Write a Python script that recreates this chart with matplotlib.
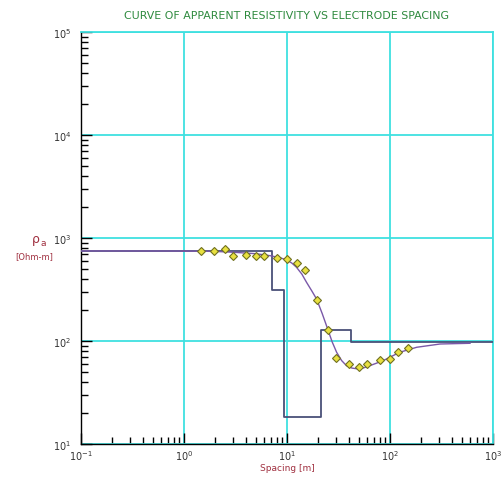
import matplotlib.pyplot as plt
from matplotlib.ticker import LogLocator, NullFormatter

# --- data ---
# field measurements (spacing [m], apparent resistivity [Ohm-m])
obs_spacing = [1.46, 1.97, 2.48, 3.01, 4.03, 5.0, 5.98, 8.0, 9.93, 12.4, 14.9,
               19.7, 25.0, 30.1, 40.0, 49.7, 59.8, 79.4, 99.3, 119, 149]
obs_rho = [743, 748, 781, 664, 684, 673, 664, 640, 625, 575, 489,
           250, 129, 68.9, 59.8, 56.2, 59.8, 65.8, 66.8, 77.6, 84.9]

# calculated (fitted) curve
calc_spacing = [0.1, 1.0, 2.0, 3.0, 5.0, 7.0, 8.5, 10.0, 11.2, 12.4, 14.0, 15.5,
                17.5, 19.4, 22.0, 25.0, 27.5, 30.4, 34.0, 37.9, 43.0, 49.3,
                56.0, 63.6, 86.0, 124, 182, 307, 599]
calc_rho = [750, 748, 742, 728, 705, 672, 645, 612, 570, 520, 445, 372,
            305, 256, 185, 129, 98, 77.6, 64.5, 57.5, 54.5, 53.5,
            55.0, 57.5, 64.4, 77.6, 86.9, 93.5, 95.0]

# layered model (depth boundaries, layer resistivities)
model_depth = [0.1, 7.15, 9.42, 21.2, 41.8, 1000]
model_rho = [750, 315, 18.4, 129, 98]

cyan = '#3fe0e0'
dark_red = '#a03040'

fig = plt.figure(figsize=(5.02, 4.81), dpi=100)
ax = fig.add_axes([0.161, 0.075, 0.821, 0.856])

ax.set_xscale('log')
ax.set_yscale('log')
ax.set_xlim(0.1, 1000)
ax.set_ylim(10, 1e5)

ax.grid(True, which='major', color=cyan, linewidth=1.3)
ax.set_axisbelow(True)

# model as a staircase
step_x = []
step_y = []
for i, r in enumerate(model_rho):
    step_x += [model_depth[i], model_depth[i + 1]]
    step_y += [r, r]
ax.plot(step_x, step_y, color='#4a5078', linewidth=1.3, zorder=3)

ax.plot(calc_spacing, calc_rho, color='#7a58a8', linewidth=1.0, zorder=4)
ax.plot(obs_spacing, obs_rho, linestyle='none', marker='D', markersize=4.5,
        markerfacecolor='#e8e040', markeredgecolor='#707020', markeredgewidth=0.8, zorder=5)

# axes styling
for side in ['top', 'right']:
    ax.spines[side].set_color(cyan)
    ax.spines[side].set_linewidth(1.3)
for side in ['left', 'bottom']:
    ax.spines[side].set_color('black')
    ax.spines[side].set_linewidth(1.0)

ax.xaxis.set_major_locator(LogLocator(base=10, numticks=10))
ax.yaxis.set_major_locator(LogLocator(base=10, numticks=10))
ax.xaxis.set_minor_locator(LogLocator(base=10, subs=range(2, 10), numticks=20))
ax.yaxis.set_minor_locator(LogLocator(base=10, subs=range(2, 10), numticks=20))
ax.xaxis.set_minor_formatter(NullFormatter())
ax.yaxis.set_minor_formatter(NullFormatter())
ax.tick_params(which='both', direction='in', top=False, right=False, color='black',
               labelsize=7, labelcolor='#333333')
ax.tick_params(which='major', length=8, width=1.0)
ax.tick_params(which='minor', length=5, width=1.0)
ax.tick_params(axis='y', which='major', pad=7)
ax.tick_params(axis='x', which='major', pad=3)

ax.set_title('CURVE OF APPARENT RESISTIVITY VS ELECTRODE SPACING',
             color='#2e8a3e', fontsize=7.9, pad=10)
ax.set_xlabel('Spacing [m]', color=dark_red, fontsize=6.5, labelpad=1)

fig.text(0.072, 0.502, 'ρ', color=dark_red, fontsize=9, ha='center', va='center')
fig.text(0.086, 0.494, 'a', color=dark_red, fontsize=6.5, ha='center', va='center')
fig.text(0.068, 0.466, '[Ohm-m]', color=dark_red, fontsize=6, ha='center', va='center')

fig.savefig('out.png', dpi=100)
